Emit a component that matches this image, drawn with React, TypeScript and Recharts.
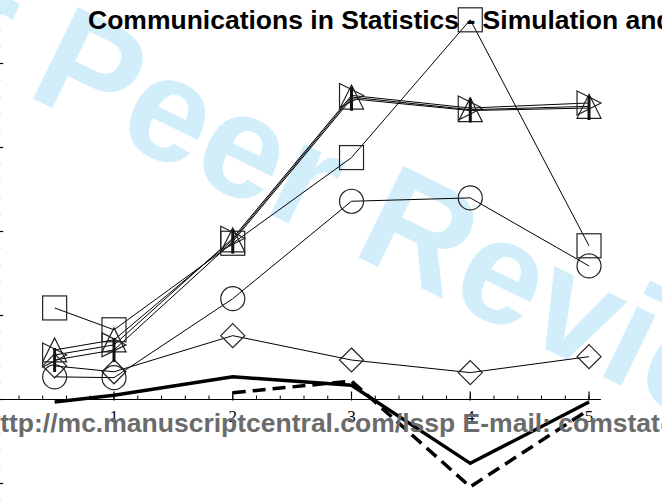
import React from "react";
import { LineChart, Line, XAxis, YAxis, ReferenceLine } from "recharts";

// x positions of the measurements
const xs = [0.5, 1, 2, 3, 4, 5];
// thin series with markers
const squares = [1.09, 0.83, 1.86, 2.88, 4.52, 1.83];
const circles = [0.27, 0.26, 1.2, 2.36, 2.4, 1.59];
const diamonds = [0.4, 0.33, 0.76, 0.47, 0.32, 0.51];
const triUp = [0.59, 0.71, 1.9, 3.6, 3.45, 3.49];
const triRight = [0.53, 0.65, 1.92, 3.62, 3.47, 3.53];
const bars = [0.47, 0.59, 1.88, 3.58, 3.44, 3.47];
// heavy lines without markers
const boldSolid = [-0.03, 0.05, 0.27, 0.17, -0.76, -0.03];
const boldDashed = [null, null, 0.08, 0.22, -1.04, -0.12];

const xTickLabels = [1, 2, 3, 4, 5];
const yMajor = [-1, 0, 1, 2, 3, 4];
const X_DOMAIN: [number, number] = [0, 5.1];
const Y_DOMAIN: [number, number] = [-1.4, 4.8];

const data = xs.map((x, i) => ({
  x,
  sq: squares[i],
  ci: circles[i],
  di: diamonds[i],
  tu: triUp[i],
  tr: triRight[i],
  br: bars[i],
  bs: boldSolid[i],
  bd: boldDashed[i],
}));

const steps = (from: number, to: number, step: number) => {
  const out: number[] = [];
  for (let v = from; v <= to + 1e-9; v += step) out.push(Math.round(v * 10) / 10);
  return out;
};

const mk = (kind: string) => (p: any) => {
  const { cx, cy, index } = p;
  if (cx == null || cy == null) return <g key={index} />;
  const s = 12;
  const st = { fill: "none", stroke: "#222", strokeWidth: 1.2 };
  if (kind === "square") return <rect key={index} x={cx - s} y={cy - s} width={2 * s} height={2 * s} {...st} />;
  if (kind === "circle") return <circle key={index} cx={cx} cy={cy} r={s} {...st} />;
  if (kind === "diamond")
    return <polygon key={index} points={`${cx},${cy - s} ${cx + s},${cy} ${cx},${cy + s} ${cx - s},${cy}`} {...st} />;
  if (kind === "up")
    return <polygon key={index} points={`${cx},${cy - s} ${cx + s},${cy + s} ${cx - s},${cy + s}`} {...st} />;
  if (kind === "right")
    return <polygon key={index} points={`${cx - s},${cy - s} ${cx + s},${cy} ${cx - s},${cy + s}`} {...st} />;
  return <line key={index} x1={cx} y1={cy - s} x2={cx} y2={cy + s} stroke="#111" strokeWidth={3} />;
};

// x axis drawn along y = 0 from the reference line's endpoints
const ZeroXAxis = (props: any) => {
  const { x1, x2, y1 } = props;
  const toPx = (v: number) => x1 + ((v - X_DOMAIN[0]) / (X_DOMAIN[1] - X_DOMAIN[0])) * (x2 - x1);
  const minor = steps(0.2, 5.0, 0.2);
  return (
    <g>
      <line x1={x1} x2={x2} y1={y1} y2={y1} stroke="#000" strokeWidth={1.2} />
      {minor.map((v) => (
        <line key={"m" + v} x1={toPx(v)} x2={toPx(v)} y1={y1 - 4} y2={y1} stroke="#000" strokeWidth={1} />
      ))}
      {xTickLabels.map((v) => (
        <g key={"t" + v}>
          <line x1={toPx(v)} x2={toPx(v)} y1={y1 - 8} y2={y1 + 1} stroke="#000" strokeWidth={1.2} />
          <text x={toPx(v)} y={y1 + 22} textAnchor="middle" fontFamily="Liberation Serif" fontSize={17} fill="#000">
            {v}
          </text>
        </g>
      ))}
    </g>
  );
};

// y axis drawn along x = 0, ticks pointing inward
const ZeroYAxis = (props: any) => {
  const { x1, y1, y2 } = props;
  const top = Math.min(y1, y2);
  const bottom = Math.max(y1, y2);
  const toPx = (v: number) => bottom - ((v - Y_DOMAIN[0]) / (Y_DOMAIN[1] - Y_DOMAIN[0])) * (bottom - top);
  const minor = steps(-1.4, 4.8, 0.2);
  return (
    <g>
      <line x1={x1} x2={x1} y1={top} y2={bottom} stroke="#000" strokeWidth={1.2} />
      {minor.map((v) => (
        <line key={"m" + v} x1={x1} x2={x1 + 5} y1={toPx(v)} y2={toPx(v)} stroke="#555" strokeWidth={1} />
      ))}
      {yMajor.map((v) => (
        <line key={"t" + v} x1={x1} x2={x1 + 8} y1={toPx(v)} y2={toPx(v)} stroke="#000" strokeWidth={1.2} />
      ))}
    </g>
  );
};

const series = [
  { key: "di", kind: "diamond" },
  { key: "ci", kind: "circle" },
  { key: "sq", kind: "square" },
  { key: "tu", kind: "up" },
  { key: "tr", kind: "right" },
  { key: "br", kind: "bar" },
];

export default function App() {
  return (
    <div
      style={{
        position: "fixed",
        left: 0,
        top: 0,
        width: 662,
        height: 502,
        overflow: "hidden",
        background: "#fff",
      }}
    >
      <svg width={662} height={502} style={{ position: "absolute", left: 0, top: 0 }}>
        <text
          x={-227}
          y={-28}
          transform="rotate(26 -227 -28)"
          fontFamily="Liberation Sans"
          fontWeight="bold"
          fontSize={148}
          fill="#d2eefb"
        >
          For Peer Review
        </text>
      </svg>
      <div style={{ position: "absolute", left: -40, top: -20 }}>
        <LineChart
          width={700}
          height={560}
          data={data}
          margin={{ top: 16.3, right: 59.1, bottom: 22.9, left: 35.25 }}
        >
          <XAxis dataKey="x" type="number" domain={X_DOMAIN} hide />
          <YAxis type="number" domain={Y_DOMAIN} hide />
          <ReferenceLine x={0} shape={(p: any) => <ZeroYAxis {...p} />} />
          <ReferenceLine y={0} shape={(p: any) => <ZeroXAxis {...p} />} />
          <Line
            dataKey="bs"
            stroke="#000"
            strokeWidth={3.5}
            dot={false}
            activeDot={false}
            isAnimationActive={false}
          />
          <Line
            dataKey="bd"
            stroke="#000"
            strokeWidth={3.5}
            strokeDasharray="13 7"
            dot={false}
            activeDot={false}
            isAnimationActive={false}
          />
          {series.map((s) => (
            <Line
              key={s.key}
              dataKey={s.key}
              stroke="#000"
              strokeWidth={1}
              dot={mk(s.kind)}
              activeDot={false}
              isAnimationActive={false}
            />
          ))}
        </LineChart>
      </div>
      <svg width={662} height={502} style={{ position: "absolute", left: 0, top: 0, pointerEvents: "none" }}>
        <text x={88} y={29} fontFamily="Liberation Sans" fontWeight="bold" fontSize={26.5} fill="#000">
          Communications in Statistics - Simulation and Computation
        </text>
        <text x={-16} y={432} fontFamily="Liberation Sans" fontWeight="bold" fontSize={26.5} fill="#6b6b6b">
          http://mc.manuscriptcentral.com/lssp E-mail: comstat@
        </text>
      </svg>
    </div>
  );
}
